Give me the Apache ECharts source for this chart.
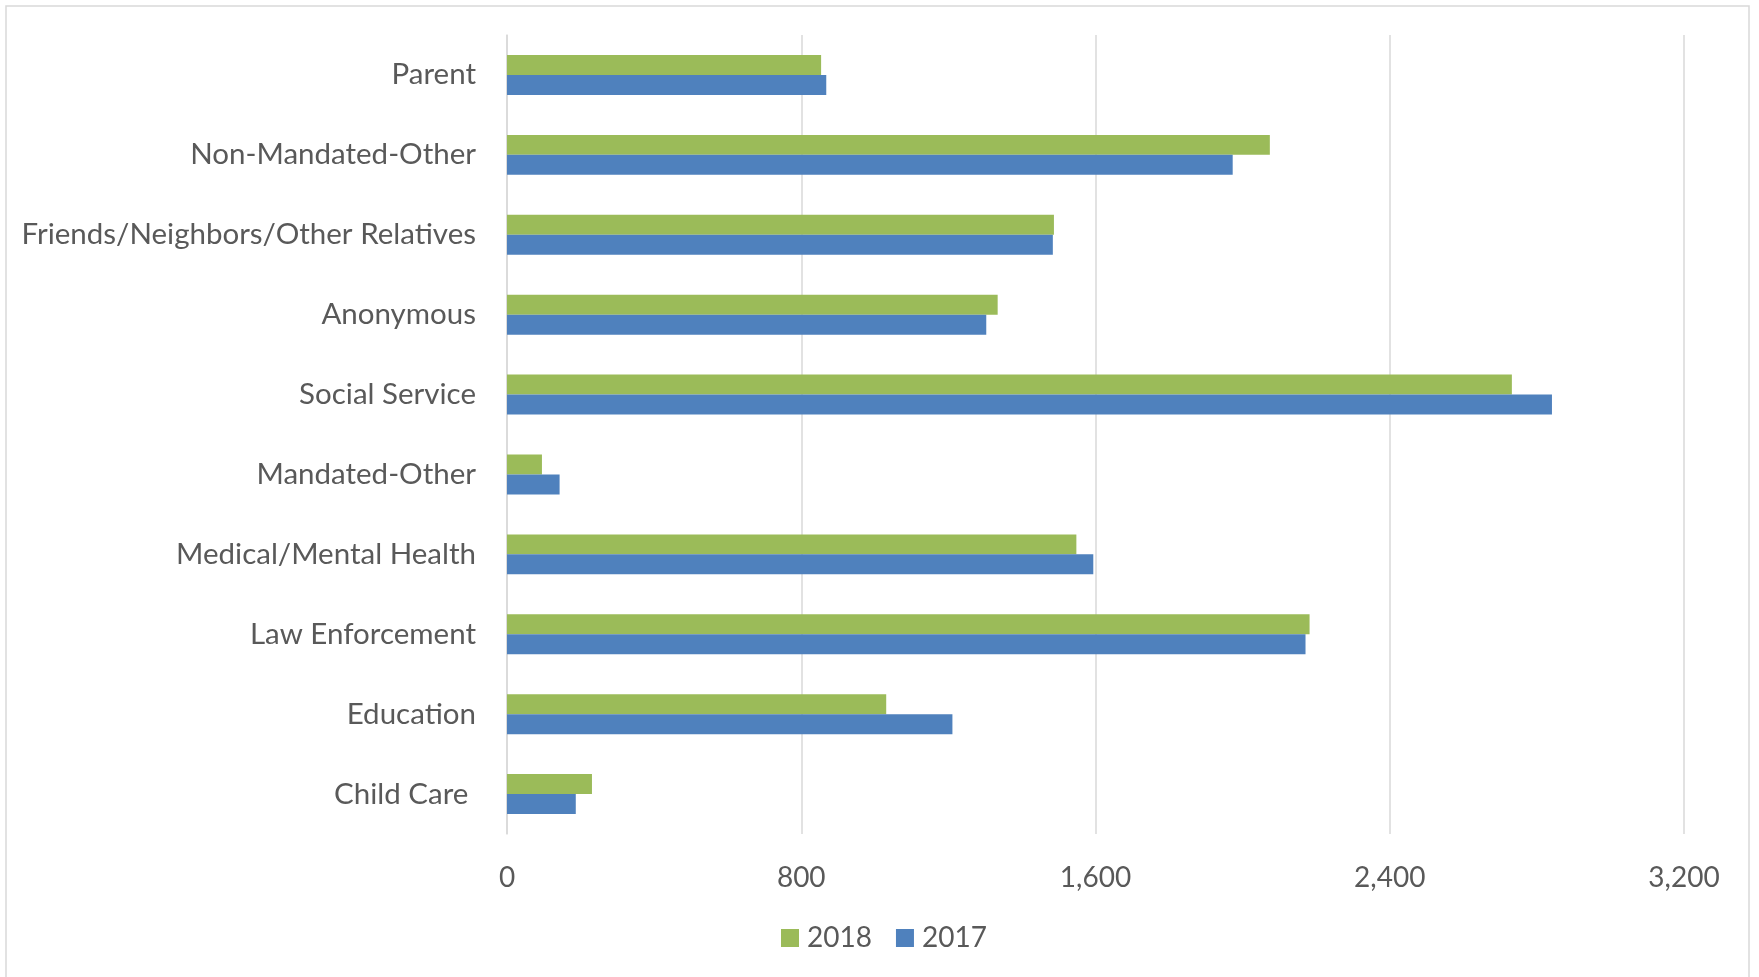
<!DOCTYPE html>
<html>
<head>
<meta charset="utf-8">
<script src="https://cdn.jsdelivr.net/npm/echarts@6/dist/echarts.min.js"></script>
<style>
html,body{margin:0;padding:0;background:#fff;}
#chart{width:1759px;height:977px;}
</style>
</head>
<body>
<div id="chart"></div>
<script>
// Categories listed bottom to top (ECharts category y-axis starts at the bottom)
const categories = [
  'Child Care ',
  'Education',
  'Law Enforcement',
  'Medical/Mental Health',
  'Mandated-Other',
  'Social Service',
  'Anonymous',
  'Friends/Neighbors/Other Relatives',
  'Non-Mandated-Other',
  'Parent'
];
const values2017 = [187, 1211, 2171, 1594, 143, 2841, 1303, 1484, 1973, 868];
const values2018 = [231, 1031, 2182, 1548, 95, 2732, 1334, 1487, 2074, 854];
const xTicks = [0, 800, 1600, 2400, 3200];

const FONT = 'Lato, "Open Sans", sans-serif';
const TEXT = '#595959';

const chart = echarts.init(document.getElementById('chart'), null, {renderer: 'canvas'});
chart.setOption({
  animation: false,
  backgroundColor: '#ffffff',
  graphic: [{
    type: 'rect',
    shape: {x: 6, y: 6, width: 1743, height: 1000},
    style: {fill: 'none', stroke: '#D9D9D9', lineWidth: 1.5},
    silent: true,
    z: -1
  }],
  grid: {left: 507, right: 75, top: 35, bottom: 143, containLabel: false},
  legend: {
    data: ['2018', '2017'],
    left: 776,
    top: 919,
    itemWidth: 18,
    itemHeight: 18,
    itemGap: 24,
    icon: 'rect',
    textStyle: {fontFamily: FONT, fontSize: 28, color: TEXT, padding: [0, 0, 0, 3]}
  },
  xAxis: {
    type: 'value',
    min: xTicks[0],
    max: xTicks[xTicks.length - 1],
    interval: 800,
    axisLine: {show: false},
    axisTick: {show: false},
    splitLine: {show: true, lineStyle: {color: '#D9D9D9', width: 1.5}},
    axisLabel: {
      fontFamily: FONT, fontSize: 28, color: TEXT, margin: 30,
      formatter: v => v.toLocaleString('en-US')
    }
  },
  yAxis: {
    type: 'category',
    data: categories,
    axisLine: {show: true, lineStyle: {color: '#D9D9D9', width: 1.5}},
    axisTick: {show: false},
    splitLine: {show: false},
    axisLabel: {fontFamily: FONT, fontSize: 29.5, color: TEXT, margin: 31}
  },
  series: [
    {
      name: '2018', type: 'bar', data: values2018,
      itemStyle: {color: '#9BBB59'},
      barGap: '0%', barCategoryGap: '50%'
    },
    {
      name: '2017', type: 'bar', data: values2017,
      itemStyle: {color: '#4F81BD'},
      barGap: '0%', barCategoryGap: '50%'
    }
  ]
});
</script>
</body>
</html>
